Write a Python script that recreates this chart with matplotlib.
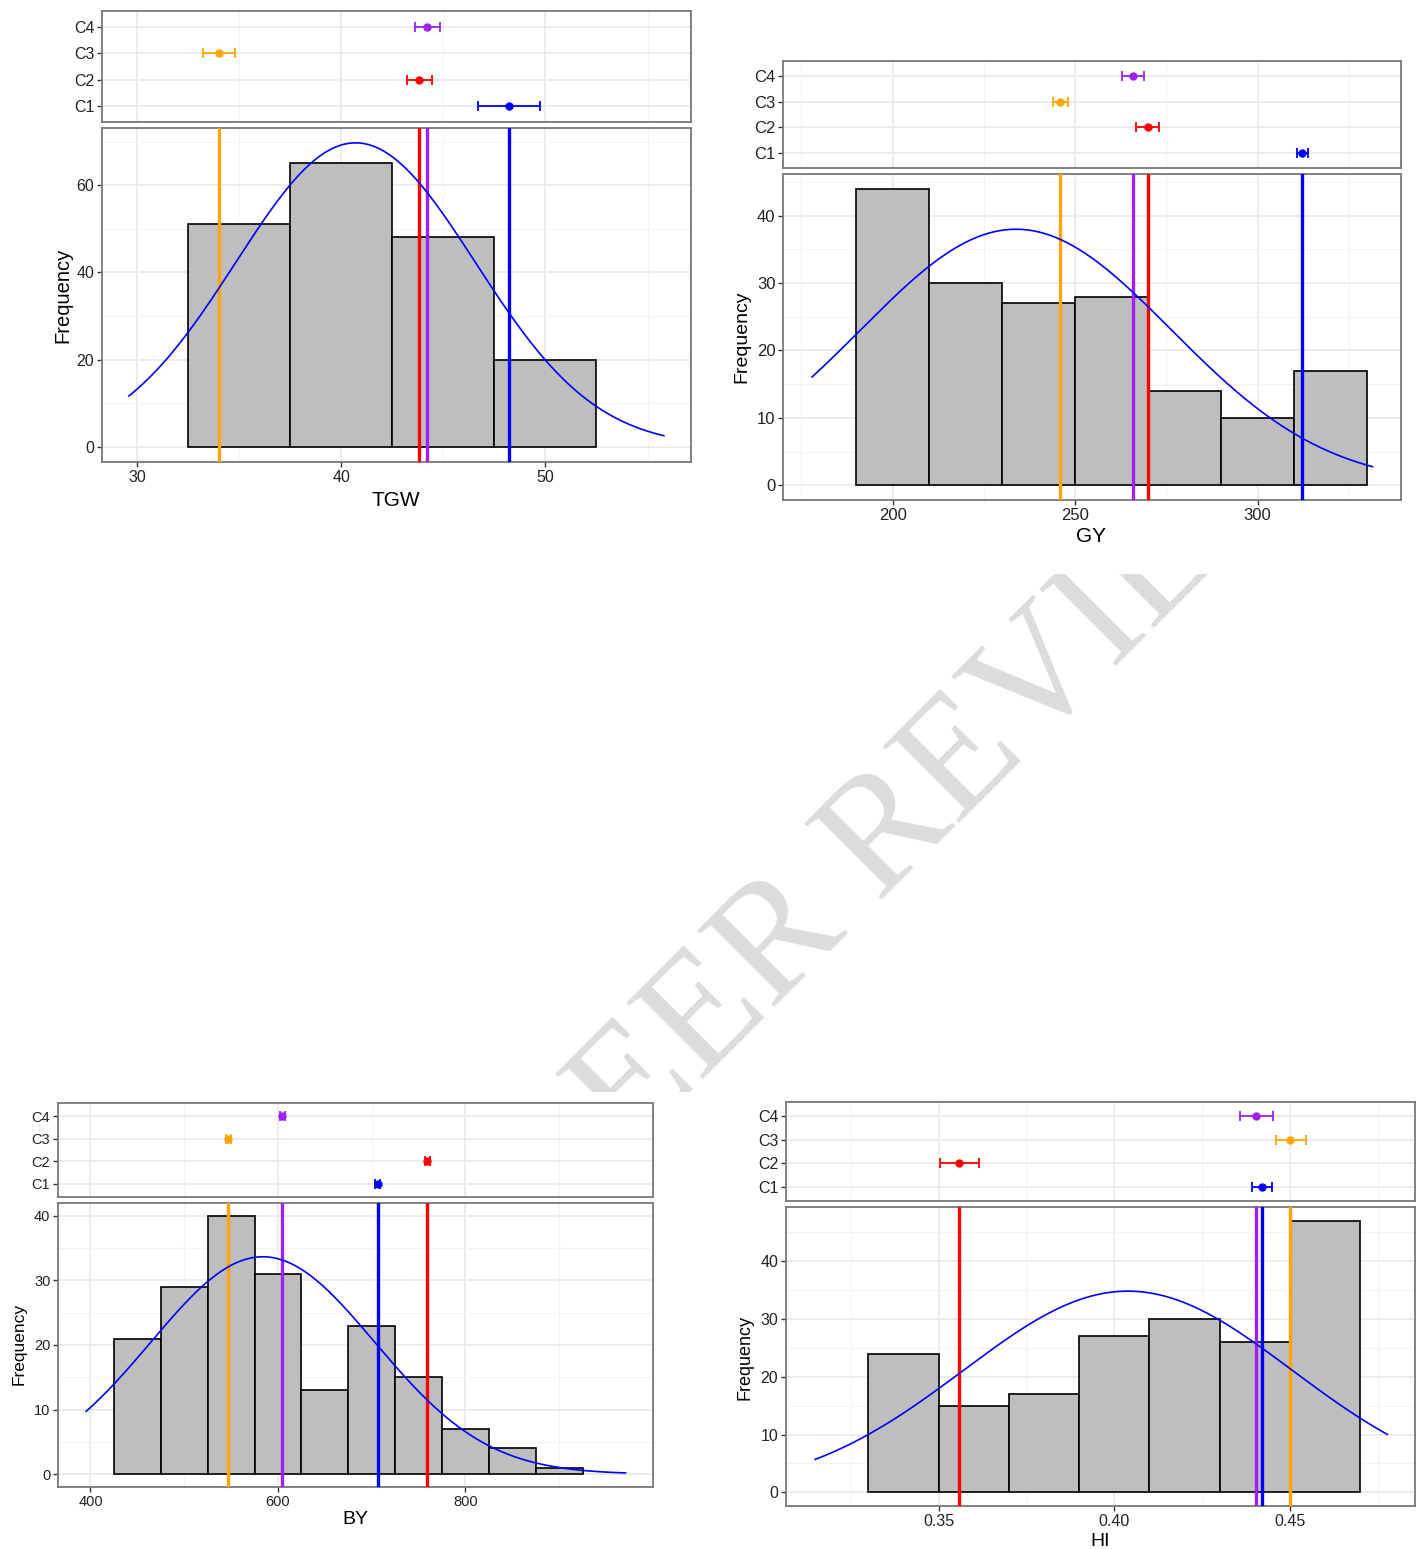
import numpy as np
import matplotlib.pyplot as plt
from matplotlib.transforms import Bbox
from matplotlib import font_manager

W, H = 1422, 1549
DPI = 100

names = {f.name for f in font_manager.fontManager.ttflist}
NARROW = ["Liberation Sans Narrow", "Liberation Sans"] if "Liberation Sans Narrow" in names else ["Liberation Sans"]

groups = ["C1", "C2", "C3", "C4"]
group_colors = ["blue", "red", "orange", "#A020F0"]

# TGW
tgw_bins = [32.5, 37.5, 42.5, 47.5]
tgw_counts = [51, 65, 48, 20]
tgw_binwidth = 5
tgw_means = [48.2, 43.8, 34.0, 44.2]
tgw_lo = [46.7, 43.2, 33.25, 43.6]
tgw_hi = [49.75, 44.45, 34.78, 44.85]
tgw_curve = [40.7, 5.87, 69.7]  # mean, sd, peak height
tgw_curve_range = [29.6, 55.8]

# GY
gy_bins = [190, 210, 230, 250, 270, 290, 310]
gy_counts = [44, 30, 27, 28, 14, 10, 17]
gy_binwidth = 20
gy_means = [312.3, 269.9, 245.9, 265.8]
gy_lo = [310.7, 266.8, 243.9, 262.9]
gy_hi = [313.9, 273.0, 248.1, 268.8]
gy_curve = [233.8, 42.6, 38.0]
gy_curve_range = [177.9, 331.5]

# BY
by_bins = [425, 475, 525, 575, 625, 675, 725, 775, 825, 875]
by_counts = [21, 29, 40, 31, 13, 23, 15, 7, 4, 1]
by_binwidth = 50
by_means = [706.2, 759.1, 546.9, 604.4]
by_lo = [703.5, 756.4, 544.2, 601.7]
by_hi = [708.9, 761.8, 549.6, 607.1]
by_curve = [583.8, 119.5, 33.67]
by_curve_range = [395.5, 970.8]

# HI
hi_bins = [0.33, 0.35, 0.37, 0.39, 0.41, 0.43, 0.45]
hi_counts = [24, 15, 17, 27, 30, 26, 47]
hi_binwidth = 0.02
hi_means = [0.4421, 0.3559, 0.4501, 0.4404]
hi_lo = [0.4393, 0.3503, 0.4460, 0.4358]
hi_hi = [0.4449, 0.3615, 0.4545, 0.4451]
hi_curve = [0.4039, 0.0468, 34.8]
hi_curve_range = [0.3149, 0.4777]

fig = plt.figure(figsize=(W / DPI, H / DPI), dpi=DPI)


def px_axes(x0, y0, x1, y1):
    return fig.add_axes([x0 / W, 1 - y1 / H, (x1 - x0) / W, (y1 - y0) / H])


def style(ax, xmajor, xminor, ymajor, yminor):
    ax.set_facecolor("white")
    for x in xminor:
        ax.axvline(x, color="#f3f3f3", lw=0.8, zorder=0)
    for x in xmajor:
        ax.axvline(x, color="#ebebeb", lw=1.3, zorder=0)
    for y in yminor:
        ax.axhline(y, color="#f3f3f3", lw=0.8, zorder=0)
    for y in ymajor:
        ax.axhline(y, color="#ebebeb", lw=1.3, zorder=0)
    for s in ax.spines.values():
        s.set_color("#777777")
        s.set_linewidth(1.3)
    ax.tick_params(length=3.5, width=1.0, color="#333333", labelcolor="#222222", pad=2)


def panel(dot_box, hist_box, bins, counts, bw, means, lo, hi, curve, crange,
          xlim, ylim, xticks, xticklabels, xminor, yticks, yminor, fs):
    # top: group means with error bars
    ax1 = px_axes(*dot_box)
    ax1.set_xlim(xlim)
    ax1.set_ylim(0.4, 4.6)
    style(ax1, xticks, xminor, [1, 2, 3, 4], [])
    for i, g in enumerate(groups):
        m = means[i]
        ax1.errorbar(m, i + 1, xerr=[[m - lo[i]], [hi[i] - m]], fmt="o",
                     color=group_colors[i], ms=5, elinewidth=1.3, capsize=3.5,
                     capthick=1.3, zorder=3)
    ax1.set_yticks([1, 2, 3, 4])
    ax1.set_yticklabels(groups, family=NARROW, fontsize=fs)
    ax1.set_xticks([])

    # bottom: histogram + normal curve + mean lines
    ax2 = px_axes(*hist_box)
    ax2.set_xlim(xlim)
    ax2.set_ylim(ylim)
    style(ax2, xticks, xminor, yticks, yminor)
    ax2.bar(bins, counts, width=bw, align="edge", color="#bebebe",
            edgecolor="black", linewidth=1.2, zorder=2)
    xs = np.linspace(crange[0], crange[1], 300)
    ax2.plot(xs, curve[2] * np.exp(-(xs - curve[0]) ** 2 / (2 * curve[1] ** 2)),
             color="blue", lw=1.2, zorder=4)
    for i in range(4):
        ax2.axvline(means[i], color=group_colors[i], lw=2.4, zorder=3)
    ax2.set_xticks(xticks)
    ax2.set_xticklabels(xticklabels, family=NARROW, fontsize=fs)
    ax2.set_yticks(yticks)
    ax2.set_yticklabels([str(v) for v in yticks], family=NARROW, fontsize=fs)
    return ax1, ax2


panel([102, 11, 691, 122], [102, 128, 691, 462], tgw_bins, tgw_counts, tgw_binwidth,
      tgw_means, tgw_lo, tgw_hi, tgw_curve, tgw_curve_range,
      (28.28, 57.13), (-3.48, 73.1), [30, 40, 50], ["30", "40", "50"], [35, 45, 55],
      [0, 20, 40, 60], [10, 30, 50, 70], 11.5)

panel([783, 61, 1401, 168], [783, 174, 1401, 500], gy_bins, gy_counts, gy_binwidth,
      gy_means, gy_lo, gy_hi, gy_curve, gy_curve_range,
      (169.95, 339.3), (-2.2, 46.2), [200, 250, 300], ["200", "250", "300"], [175, 225, 275, 325],
      [0, 10, 20, 30, 40], [5, 15, 25, 35, 45], 12)

panel([58, 1103, 653, 1197], [58, 1203, 653, 1487], by_bins, by_counts, by_binwidth,
      by_means, by_lo, by_hi, by_curve, by_curve_range,
      (365.4, 1000), (-2, 42), [400, 600, 800], ["400", "600", "800"], [500, 700, 900],
      [0, 10, 20, 30, 40], [5, 15, 25, 35], 10.5)

panel([786, 1102, 1415, 1201], [786, 1207, 1415, 1506], hi_bins, hi_counts, hi_binwidth,
      hi_means, hi_lo, hi_hi, hi_curve, hi_curve_range,
      (0.3066, 0.4856), (-2.35, 49.35), [0.35, 0.40, 0.45], ["0.35", "0.40", "0.45"],
      [0.325, 0.375, 0.425, 0.475], [0, 10, 20, 30, 40], [5, 15, 25, 35, 45], 11.5)

# axis titles
titles = [("TGW", 396, 500, 15), ("GY", 1091, 537, 15), ("BY", 355, 1520, 14), ("HI", 1100, 1541, 14)]
for txt, x, y, s in titles:
    fig.text(x / W, 1 - y / H, txt, ha="center", va="center", fontsize=s, family=NARROW)
freq_pos = [(63, 295, 14.5), (742, 337, 14), (19, 1344, 12.5), (745, 1357, 13)]
for x, y, s in freq_pos:
    fig.text(x / W, 1 - y / H, "Frequency", ha="center", va="center", rotation=90,
             fontsize=s, family="Liberation Sans")

# watermark, only visible in the white band between the two rows of panels
wm = fig.text(948 / W, 1 - 834 / H, "PEER REVIEW", ha="center", va="baseline",
              rotation=45, rotation_mode="anchor", fontsize=119,
              family="Liberation Serif", color="#dcdcdc", zorder=-5)
wm.set_clip_on(True)
wm.set_clip_box(Bbox([[0, H - 1092], [W, H - 574]]))

fig.savefig("out.png", dpi=DPI)
